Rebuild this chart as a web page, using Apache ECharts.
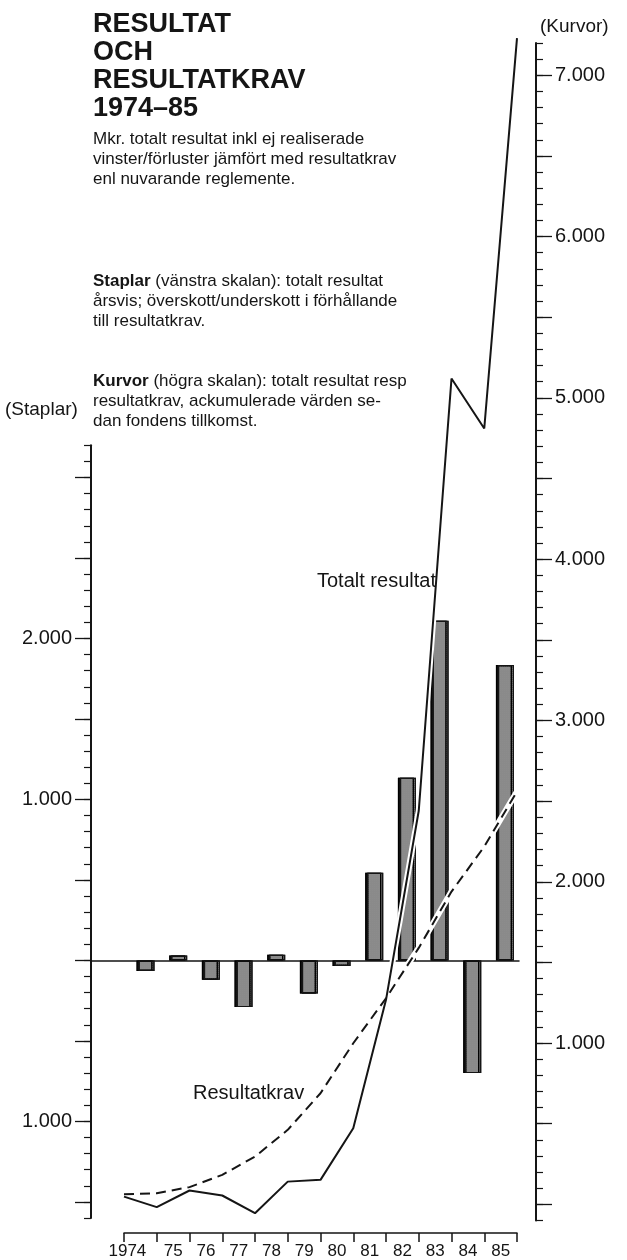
<!DOCTYPE html>
<html>
<head>
<meta charset="utf-8">
<title>Resultat och resultatkrav 1974-85</title>
<script src="https://cdn.jsdelivr.net/npm/echarts@6/dist/echarts.min.js"></script>
<style>
  html, body { margin: 0; padding: 0; background: #fff; }
  #chart { width: 627px; height: 1260px; }
</style>
</head>
<body>
<div id="chart"></div>
<script>
// years on the x axis (one bar per year)
const years = ['1974', '75', '76', '77', '78', '79', '80', '81', '82', '83', '84', '85'];
const barYears = [1974, 1975, 1976, 1977, 1978, 1979, 1980, 1981, 1982, 1983, 1984, 1985];
// Staplar, vänstra skalan: överskott/underskott per år, Mkr
const surplus = [-65, 30, -120, -290, 35, -205, -35, 545, 1135, 2110, -700, 1835];

// Kurvor, högra skalan: ackumulerade värden vid varje årsskifte, Mkr
const curvePoints = ['1973', '1974', '1975', '1976', '1977', '1978', '1979', '1980', '1981', '1982', '1983', '1984', '1985'];
const totalResult = [48, -17, 86, 55, -55, 141, 152, 472, 1268, 2440, 5120, 4810, 7230];
const requirement = [63, 69, 107, 183, 296, 462, 689, 999, 1278, 1590, 1939, 2218, 2560];

// tick / label values for the two scales
const leftLongTicks = [-1500, -1000, -500, 0, 500, 1000, 1500, 2000, 2500, 3000];
const leftLabels = [-1000, 1000, 2000];
const rightLongTicks = [0, 500, 1000, 1500, 2000, 2500, 3000, 3500, 4000, 4500, 5000, 5500, 6000, 6500, 7000];
const rightLabels = [1000, 2000, 3000, 4000, 5000, 6000, 7000];

const FONT = '"Liberation Sans", Arial, Helvetica, sans-serif';
const INK = '#151515';

function thousands (v) {
  // 1000 -> "1.000", negatives shown without sign like the original
  return Math.abs(v) / 1000 + '.000';
}

function textBlock (text, left, top, size) {
  return {
    text: text,
    left: left,
    top: top,
    padding: 0,
    textStyle: {
      fontFamily: FONT,
      fontSize: size,
      fontWeight: 'normal',
      lineHeight: 20,
      color: INK,
      rich: {
        b: { fontFamily: FONT, fontSize: size, fontWeight: 'bold', lineHeight: 20, color: INK }
      }
    }
  };
}

let myChart = echarts.init(document.getElementById('chart'));

let option = {
  animation: false,
  backgroundColor: '#fff',
  title: [
    {
      text: 'RESULTAT\nOCH\nRESULTATKRAV\n1974–85',
      left: 93,
      top: 11,
      padding: 0,
      textStyle: { fontFamily: FONT, fontSize: 27, fontWeight: 'bold', lineHeight: 28, color: INK }
    },
    textBlock('Mkr. totalt resultat inkl ej realiserade\nvinster/förluster jämfört med resultatkrav\nenl nuvarande reglemente.', 93, 129, 17),
    textBlock('{b|Staplar} (vänstra skalan): totalt resultat\nårsvis; överskott/underskott i förhållande\ntill resultatkrav.', 93, 271, 17),
    textBlock('{b|Kurvor} (högra skalan): totalt resultat resp\nresultatkrav, ackumulerade värden se-\ndan fondens tillkomst.', 93, 371, 17),
    textBlock('(Kurvor)', 540, 17, 19),
    textBlock('(Staplar)', 5, 400, 19),
    textBlock('Totalt resultat', 317, 571, 20),
    textBlock('Resultatkrav', 193, 1083, 20)
  ],
  grid: [
    // bars, left scale
    { left: 91, right: 108, top: 445.3, bottom: 42, outerBoundsMode: 'none' },
    // curves, right scale
    { left: 124, right: 110, top: 43, bottom: 39.5, outerBoundsMode: 'none' },
    // year axis only
    { left: 124, right: 110, top: 1200, bottom: 27, outerBoundsMode: 'none' }
  ],
  xAxis: [
    {
      gridIndex: 0,
      type: 'value',
      min: 1972.3,
      max: 1985.4,
      axisLine: { show: true, onZero: true, lineStyle: { color: INK, width: 1.5 } },
      axisTick: { show: false },
      axisLabel: { show: false },
      splitLine: { show: false }
    },
    {
      gridIndex: 1,
      type: 'category',
      data: curvePoints,
      boundaryGap: false,
      show: false
    },
    {
      gridIndex: 2,
      type: 'category',
      data: years,
      boundaryGap: true,
      axisLine: { show: true, lineStyle: { color: INK, width: 1.5 } },
      axisTick: { show: true, interval: 0, length: 9, lineStyle: { color: INK, width: 1.5 } },
      axisLabel: {
        interval: 0,
        margin: 10,
        color: INK,
        fontFamily: FONT,
        fontSize: 17,
        formatter: function (v, i) {
          return i === 0 ? '{first|' + v + '}' : v;
        },
        rich: {
          first: { fontFamily: FONT, fontSize: 17, color: INK, padding: [0, 26, 0, 0] }
        }
      },
      splitLine: { show: false }
    }
  ],
  yAxis: [
    {
      gridIndex: 0,
      type: 'value',
      position: 'left',
      min: -1600,
      max: 3200,
      interval: 100,
      axisLine: { show: true, lineStyle: { color: INK, width: 2 } },
      axisTick: { show: true, length: 7, lineStyle: { color: INK, width: 1.2 } },
      axisLabel: { show: false },
      splitLine: { show: false }
    },
    {
      gridIndex: 0,
      type: 'value',
      position: 'left',
      min: -1600,
      max: 3200,
      axisLine: { show: false },
      axisTick: { show: true, customValues: leftLongTicks, length: 16, lineStyle: { color: INK, width: 1.3 } },
      axisLabel: {
        customValues: leftLabels,
        formatter: thousands,
        margin: 19,
        color: INK,
        fontFamily: FONT,
        fontSize: 20
      },
      splitLine: { show: false }
    },
    {
      gridIndex: 1,
      type: 'value',
      position: 'right',
      offset: 19,
      min: -100,
      max: 7200,
      interval: 100,
      axisLine: { show: true, lineStyle: { color: INK, width: 2 } },
      axisTick: { show: true, length: 7, lineStyle: { color: INK, width: 1.2 } },
      axisLabel: { show: false },
      splitLine: { show: false }
    },
    {
      gridIndex: 1,
      type: 'value',
      position: 'right',
      offset: 19,
      min: -100,
      max: 7200,
      axisLine: { show: false },
      axisTick: { show: true, customValues: rightLongTicks, length: 16, lineStyle: { color: INK, width: 1.3 } },
      axisLabel: {
        customValues: rightLabels,
        formatter: thousands,
        margin: 19,
        color: INK,
        fontFamily: FONT,
        fontSize: 20
      },
      splitLine: { show: false }
    },
    {
      gridIndex: 2,
      type: 'value',
      min: 0,
      max: 1,
      show: false
    }
  ],
  series: [
    {
      name: 'Staplar',
      type: 'bar',
      xAxisIndex: 0,
      yAxisIndex: 0,
      barWidth: 16,
      data: barYears.map((y, i) => [y, surplus[i]]),
      itemStyle: {
        color: '#8a8a8a',
        borderColor: INK,
        borderWidth: 1.2,
        shadowColor: INK,
        shadowOffsetX: -2,
        shadowBlur: 0,
        decal: {
          symbol: 'rect',
          symbolSize: 1,
          dashArrayX: [1, 1],
          dashArrayY: [1, 1],
          color: 'rgba(255,255,255,0.22)'
        }
      }
    },
    // white halo under the curves where they cross the bars
    {
      type: 'line',
      xAxisIndex: 1,
      yAxisIndex: 2,
      data: requirement,
      symbol: 'none',
      clip: false,
      silent: true,
      lineStyle: { color: '#fff', width: 6 }
    },
    {
      type: 'line',
      xAxisIndex: 1,
      yAxisIndex: 2,
      data: totalResult,
      symbol: 'none',
      clip: false,
      silent: true,
      lineStyle: { color: '#fff', width: 6 }
    },
    {
      name: 'Resultatkrav',
      type: 'line',
      xAxisIndex: 1,
      yAxisIndex: 2,
      data: requirement,
      symbol: 'none',
      clip: false,
      lineStyle: { color: INK, width: 2, type: [10, 6] }
    },
    {
      name: 'Totalt resultat',
      type: 'line',
      xAxisIndex: 1,
      yAxisIndex: 2,
      data: totalResult,
      symbol: 'none',
      clip: false,
      lineStyle: { color: INK, width: 2 }
    }
  ]
};

myChart.setOption(option);
</script>
</body>
</html>
